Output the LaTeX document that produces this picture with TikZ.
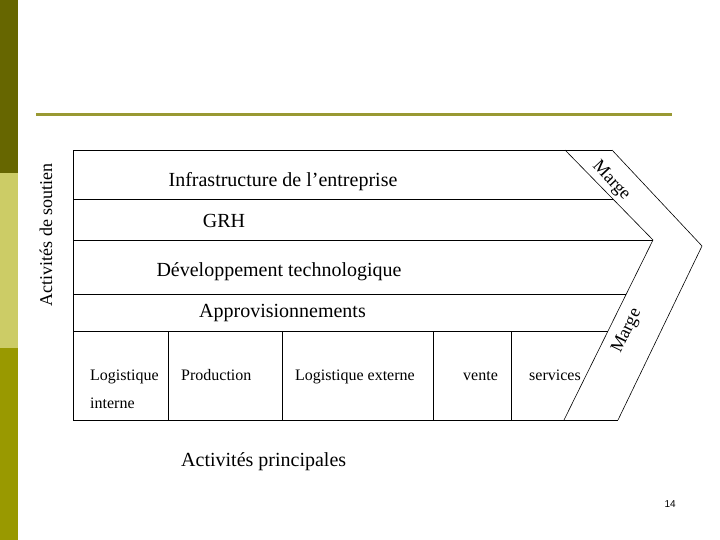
\documentclass[tikz,border=0pt]{standalone}
\usepackage{fontspec}
\setmainfont{Liberation Serif}
\newfontfamily\pagenumfont{Liberation Sans}
\usetikzlibrary{positioning}
\definecolor{olivedark}{RGB}{102,102,0}
\definecolor{olivelight}{RGB}{204,204,102}
\definecolor{olivemid}{RGB}{153,153,0}
\definecolor{oliveline}{RGB}{153,153,51}

\begin{document}
\begin{tikzpicture}[x=1pt,y=-1pt,
		every node/.style={inner sep=0pt,
			font=\fontsize{20}{24}\selectfont,
		},
		band/.style={anchor=base},
		cell/.style={anchor=base west, font=\fontsize{16}{19}\selectfont},
		marge/.style={font=\fontsize{18}{22}\selectfont},
		frame/.style={line width=0.8pt},
		]

		\useasboundingbox (0,0) rectangle (720,540);

		% side bar and title rule
		\fill[olivedark] (0,0) rectangle (18,173);
		\fill[olivelight] (0,173) rectangle (18,348);
		\fill[olivemid] (0,348) rectangle (18,540);
		\draw[oliveline, line width=3pt] (36,114.5) -- (672,114.5);

		% support activities
		\draw[frame] (612,150) -- (73,150) -- (73,420) -- (618,420);
		\draw[frame] (73,199) -- (613,199);
		\draw[frame] (73,240) -- (653,240);
		\draw[frame] (73,294) -- (626,294);
		\draw[frame] (73,331) -- (608,331);

		% primary activities
		\foreach \x in {168,282,433,511}
			\draw[frame] (\x,331) -- (\x,420);

		% margin chevron
		\draw[line width=0.6pt] (565,150) -- (653,240) -- (564,420);
		\draw[line width=0.6pt] (612,150) -- (702,246) -- (618,420);

		\node (infra) [band] at (283,187) {Infrastructure de l’entreprise};
		\node (grh) [band] at (224,227) {GRH};
		\node (dev) [band] at (279,276) {Développement technologique};
		\node (appro) [band] at (282.5,317) {Approvisionnements};

		\node (logint) [cell] at (90,380) {Logistique};
		\node (logint2) [cell] at (90,408) {interne};
		\node (prod) [cell] at (181,380) {Production};
		\node (logext) [cell] at (295,380) {Logistique externe};
		\node (vente) [cell] at (463,380) {vente};
		\node (serv) [cell] at (529,380) {services};

		\node (soutien) [rotate=90, font=\fontsize{18}{22}\selectfont] at (46,235) {Activités de soutien};
		\node (principales) [anchor=base west] at (181,466) {Activités principales};

		\node (margetop) [marge, rotate=-47] at (611,181) {Marge};
		\node (margebas) [marge, rotate=64] at (627,331) {Marge};

		\node (page) [anchor=base east, font=\pagenumfont\fontsize{10}{12}\selectfont] at (676,507) {14};

	\end{tikzpicture}
\end{document}
